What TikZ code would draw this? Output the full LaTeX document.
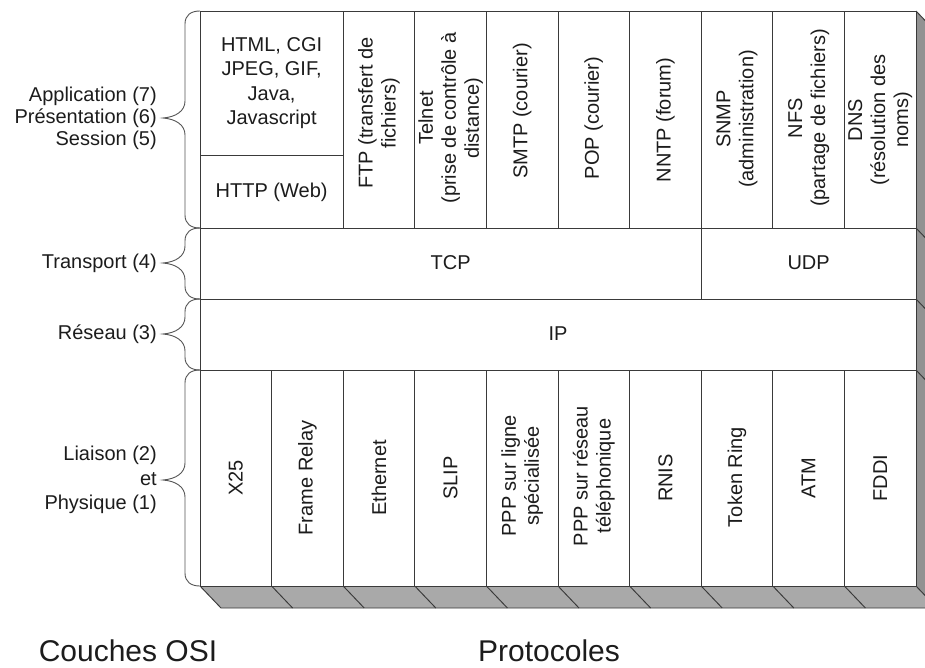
\documentclass[tikz,border=0pt]{standalone}
\usepackage{fontspec}
\setmainfont{Liberation Sans}
\definecolor{ink}{HTML}{1C1C1C}
\definecolor{linegray}{HTML}{3A3A3A}
\definecolor{bracegray}{HTML}{555555}
\definecolor{bottomface}{HTML}{A9A9A9}
\definecolor{sideface}{HTML}{929292}
% curly brace on the left of a layer: top, bottom, tip height
\newcommand\layerbrace[3]{%
  \draw[bracestyle] (200,#1) .. controls (191,#1) and (185,#1+4) .. (185,#1+13)
    -- (185,#3-17) .. controls (185,#3-7) and (176,#3-1) .. (163,#3)
    .. controls (176,#3+1) and (185,#3+7) .. (185,#3+17)
    -- (185,#2-13) .. controls (185,#2-4) and (191,#2) .. (200,#2);}
\begin{document}
\begin{tikzpicture}[x=1pt,y=-1pt,
  edge/.style={draw=linegray,line width=0.95pt},
  bracestyle/.style={draw=bracegray,line width=0.9pt},
  lbl/.style={font=\fontsize{20}{23}\selectfont,text=ink,align=center,inner sep=0pt},
  vlbl/.style={lbl,rotate=90},
  osi/.style={font=\fontsize{20}{22}\selectfont,text=ink,align=right,anchor=east,inner sep=0pt},
  caption/.style={font=\fontsize{30}{34}\selectfont,text=ink,inner sep=0pt,anchor=base}]
\useasboundingbox (0,0) rectangle (925,667);
\clip (0,0) rectangle (925,667);

% 3D extrusion: bottom and right faces
\fill[bottomface] (200,586) -- (916,586) -- (937,608) -- (221,608) -- cycle;
\fill[sideface] (916,11) -- (937,33) -- (937,608) -- (916,586) -- cycle;
\draw[edge] (200,586) -- (221,608) -- (937,608);
\foreach \x in {271.6,343.2,414.8,486.4,558,629.6,701.2,772.8,844.4,916}
  \draw[edge] (\x,586) -- ++(21,22);
\foreach \y in {11,228,299,370}
  \draw[edge] (916,\y) -- ++(21,22);

% front face
\fill[white] (200,11) rectangle (916,586);
\draw[edge] (200,11) rectangle (916,586);
\draw[edge] (200,228) -- (916,228);
\draw[edge] (200,299) -- (916,299);
\draw[edge] (200,370) -- (916,370);
% application columns
\draw[edge] (200,155) -- (343.2,155);
\foreach \x in {343.2,414.8,486.4,558,629.6,701.2,772.8,844.4}
  \draw[edge] (\x,11) -- (\x,228);
% transport split
\draw[edge] (701.2,228) -- (701.2,299);
% link columns
\foreach \x in {271.6,343.2,414.8,486.4,558,629.6,701.2,772.8,844.4}
  \draw[edge] (\x,370) -- (\x,586);

% application layer protocols
\node[lbl,font=\fontsize{20}{24.5}\selectfont] (html) at (271.6,83) {HTML, CGI\\JPEG, GIF,\\Java,\\Javascript};
\node[lbl] (http) at (271.6,192) {HTTP (Web)};
\node[vlbl] (ftp) at (379,113) {FTP (transfert de\\fichiers)};
\node[vlbl] (telnet) at (450.6,118) {Telnet\\(prise de contrôle à\\distance)};
\node[vlbl] (smtp) at (522.2,111) {SMTP (courier)};
\node[vlbl] (pop) at (593.8,118) {POP (courier)};
\node[vlbl] (nntp) at (665.4,120) {NNTP (forum)};
\node[vlbl] (snmp) at (737,119) {SNMP\\(administration)};
\node[vlbl] (nfs) at (808.6,118) {NFS\\(partage de fichiers)};
\node[vlbl] (dns) at (880.2,120) {DNS\\(résolution des\\noms)};

% transport and network
\node[lbl] (tcp) at (450.6,263) {TCP};
\node[lbl] (udp) at (808.6,263) {UDP};
\node[lbl] (ip) at (558,334) {IP};

% link / physical protocols
\node[vlbl] (x25) at (235.8,478) {X25};
\node[vlbl] (framerelay) at (307.4,478) {Frame Relay};
\node[vlbl] (ethernet) at (379,478) {Ethernet};
\node[vlbl] (slip) at (450.6,478) {SLIP};
\node[vlbl] (pppls) at (522.2,476) {PPP sur ligne\\spécialisée};
\node[vlbl] (ppprt) at (593.8,476) {PPP sur réseau\\téléphonique};
\node[vlbl] (rnis) at (665.4,478) {RNIS};
\node[vlbl] (tokenring) at (737,477) {Token Ring};
\node[vlbl] (atm) at (808.6,478) {ATM};
\node[vlbl] (fddi) at (880.2,478) {FDDI};

% OSI layers with braces
\layerbrace{11}{228}{118}
\layerbrace{228}{299}{263}
\layerbrace{299}{370}{334}
\layerbrace{370}{586}{480}
\node[osi] (l765) at (157,118) {Application (7)\\Présentation (6)\\Session (5)};
\node[osi] (l4) at (157,263) {Transport (4)};
\node[osi] (l3) at (157,334) {Réseau (3)};
\node[osi,font=\fontsize{20}{24.5}\selectfont] (l21) at (157,480) {Liaison (2)\\et\\Physique (1)};

% captions
\node[caption] (couches) at (128,661) {Couches OSI};
\node[caption] (protocoles) at (549,661) {Protocoles};
\end{tikzpicture}
\end{document}
